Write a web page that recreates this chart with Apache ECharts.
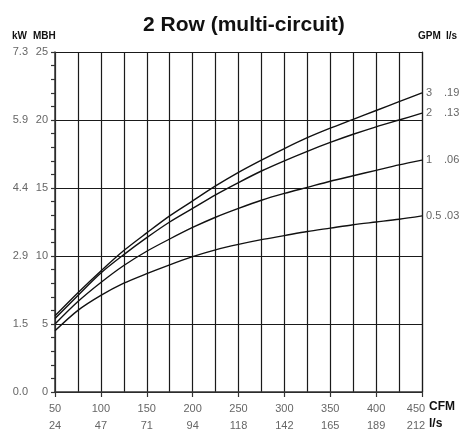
<!DOCTYPE html>
<html>
<head>
<meta charset="utf-8">
<script src="https://cdn.jsdelivr.net/npm/echarts@6/dist/echarts.min.js"></script>
<style>
  html, body { margin: 0; padding: 0; background: #fff; }
  #chart { width: 463px; height: 430px; }
</style>
</head>
<body>
<div id="chart"></div>
<script>
// Airflow (CFM) sample points and the matching l/s labels
const cfm = [50, 75, 100, 125, 150, 175, 200, 225, 250, 275, 300, 325, 350, 375, 400, 425, 450];
const cfmTicks = [50, 100, 150, 200, 250, 300, 350, 400, 450];
const lpsTicks = [24, 47, 71, 94, 118, 142, 165, 189, 212];

// Capacity tick labels (MBH on the inner column, kW on the outer column)
const mbhTicks = [0, 5, 10, 15, 20, 25];
const kwTicks = ['0.0', '1.5', '2.9', '4.4', '5.9', '7.3'];

// Capacity (MBH) for each water flow rate
const gpm3   = [5.6, 7.3, 8.9, 10.4, 11.7, 12.95, 14.05, 15.15, 16.15, 17.05, 17.9, 18.7, 19.4, 20.05, 20.7, 21.35, 22.0];
const gpm2   = [5.4, 7.1, 8.75, 10.1, 11.35, 12.5, 13.5, 14.5, 15.4, 16.25, 17.0, 17.7, 18.35, 18.95, 19.5, 20.0, 20.5];
const gpm1   = [5.0, 6.65, 8.05, 9.3, 10.35, 11.25, 12.1, 12.85, 13.5, 14.1, 14.6, 15.05, 15.5, 15.9, 16.3, 16.7, 17.05];
const gpm05  = [4.5, 6.0, 7.1, 8.0, 8.7, 9.35, 9.95, 10.45, 10.85, 11.2, 11.5, 11.8, 12.05, 12.3, 12.5, 12.7, 12.95];

// Flow labels drawn at the right end of each curve: GPM and l/s
const flowGpm = ['3', '2', '1', '0.5'];
const flowLps = ['.19', '.13', '.06', '.03'];
const curves = [gpm3, gpm2, gpm1, gpm05];

const FONT = '"Liberation Sans", Arial, sans-serif';
const GRID = '#1a1a1a';
const TXT = '#666';

const chart = echarts.init(document.getElementById('chart'), null, { renderer: 'canvas' });

const series = curves.map((vals, i) => ({
  type: 'line',
  data: cfm.map((x, k) => [x, vals[k]]),
  smooth: 0.3,
  symbol: 'none',
  lineStyle: { color: '#111', width: 1.4 },
  endLabel: {
    show: true,
    distance: 4,
    formatter: () => '{g|' + flowGpm[i] + '}{l|' + flowLps[i] + '}',
    rich: {
      g: { fontFamily: FONT, fontSize: 11, color: TXT, width: 18 },
      l: { fontFamily: FONT, fontSize: 11, color: TXT }
    }
  },
  animation: false,
  silent: true
}));

chart.setOption({
  backgroundColor: '#fff',
  animation: false,
  title: {
    text: '2 Row (multi-circuit)',
    left: 138,
    top: 10,
    textStyle: { fontFamily: FONT, fontSize: 21, fontWeight: 'bold', color: '#111' }
  },
  grid: { left: 55, right: 41, top: 52, bottom: 38, containLabel: false, outerBoundsMode: 'none' },
  xAxis: {
    type: 'value',
    min: 50,
    max: 450,
    interval: 50,
    axisLine: { show: true, lineStyle: { color: '#333', width: 1.5 } },
    axisTick: { show: true, inside: false, length: 5, lineStyle: { color: '#333', width: 1.2 } },
    splitLine: { show: true, lineStyle: { color: GRID, width: 1.2 } },
    minorTick: { show: false, splitNumber: 2 },
    minorSplitLine: { show: true, lineStyle: { color: GRID, width: 1.2 } },
    axisLabel: {
      margin: 8,
      fontFamily: FONT,
      fontSize: 11,
      color: TXT,
      lineHeight: 17,
      formatter: v => {
        const k = cfmTicks.indexOf(v);
        if (k < 0) return '';
        // the last pair leaves room for the unit names on its right
        const s = k === cfmTicks.length - 1 ? 'e' : 'n';
        return '{' + s + '|' + v + '}\n{' + s + '|' + lpsTicks[k] + '}';
      },
      rich: {
        n: { fontFamily: FONT, fontSize: 11, color: TXT, lineHeight: 17 },
        e: { fontFamily: FONT, fontSize: 11, color: TXT, lineHeight: 17, padding: [0, 12, 0, 0] }
      }
    }
  },
  yAxis: [
    {
      type: 'value',
      min: 0,
      max: 25,
      interval: 5,
      axisLine: { show: true, lineStyle: { color: '#333', width: 1.5 } },
      axisTick: { show: true, inside: false, length: 4, lineStyle: { color: '#333', width: 1.2 } },
      minorTick: { show: true, splitNumber: 5, length: 4, lineStyle: { color: '#333', width: 1.2 } },
      splitLine: { show: true, lineStyle: { color: GRID, width: 1.2 } },
      axisLabel: {
        margin: 7,
        fontFamily: FONT,
        fontSize: 11,
        color: TXT,
        formatter: v => (mbhTicks.indexOf(v) < 0 ? '' : String(v))
      }
    },
    {
      type: 'value',
      position: 'left',
      offset: 27,
      min: 0,
      max: 25,
      interval: 5,
      axisLine: { show: false },
      axisTick: { show: false },
      splitLine: { show: false },
      axisLabel: {
        margin: 0,
        fontFamily: FONT,
        fontSize: 11,
        color: TXT,
        formatter: v => {
          const k = mbhTicks.indexOf(v);
          return k < 0 ? '' : kwTicks[k];
        }
      }
    },
    {
      type: 'value',
      position: 'right',
      min: 0,
      max: 25,
      interval: 5,
      axisLine: { show: true, lineStyle: { color: GRID, width: 1.2 } },
      axisTick: { show: false },
      axisLabel: { show: false },
      splitLine: { show: false }
    }
  ],
  graphic: [
    { type: 'text', left: 12, top: 31, style: { text: 'kW', font: 'bold 10px ' + FONT, fill: '#111' } },
    { type: 'text', left: 33, top: 31, style: { text: 'MBH', font: 'bold 10px ' + FONT, fill: '#111' } },
    { type: 'text', left: 418, top: 31, style: { text: 'GPM', font: 'bold 10px ' + FONT, fill: '#111' } },
    { type: 'text', left: 446, top: 31, style: { text: 'l/s', font: 'bold 10px ' + FONT, fill: '#111' } },
    { type: 'text', left: 429, top: 401, style: { text: 'CFM', font: 'bold 12px ' + FONT, fill: '#111' } },
    { type: 'text', left: 429, top: 418, style: { text: 'l/s', font: 'bold 12px ' + FONT, fill: '#111' } }
  ],
  series: series
});
</script>
</body>
</html>
